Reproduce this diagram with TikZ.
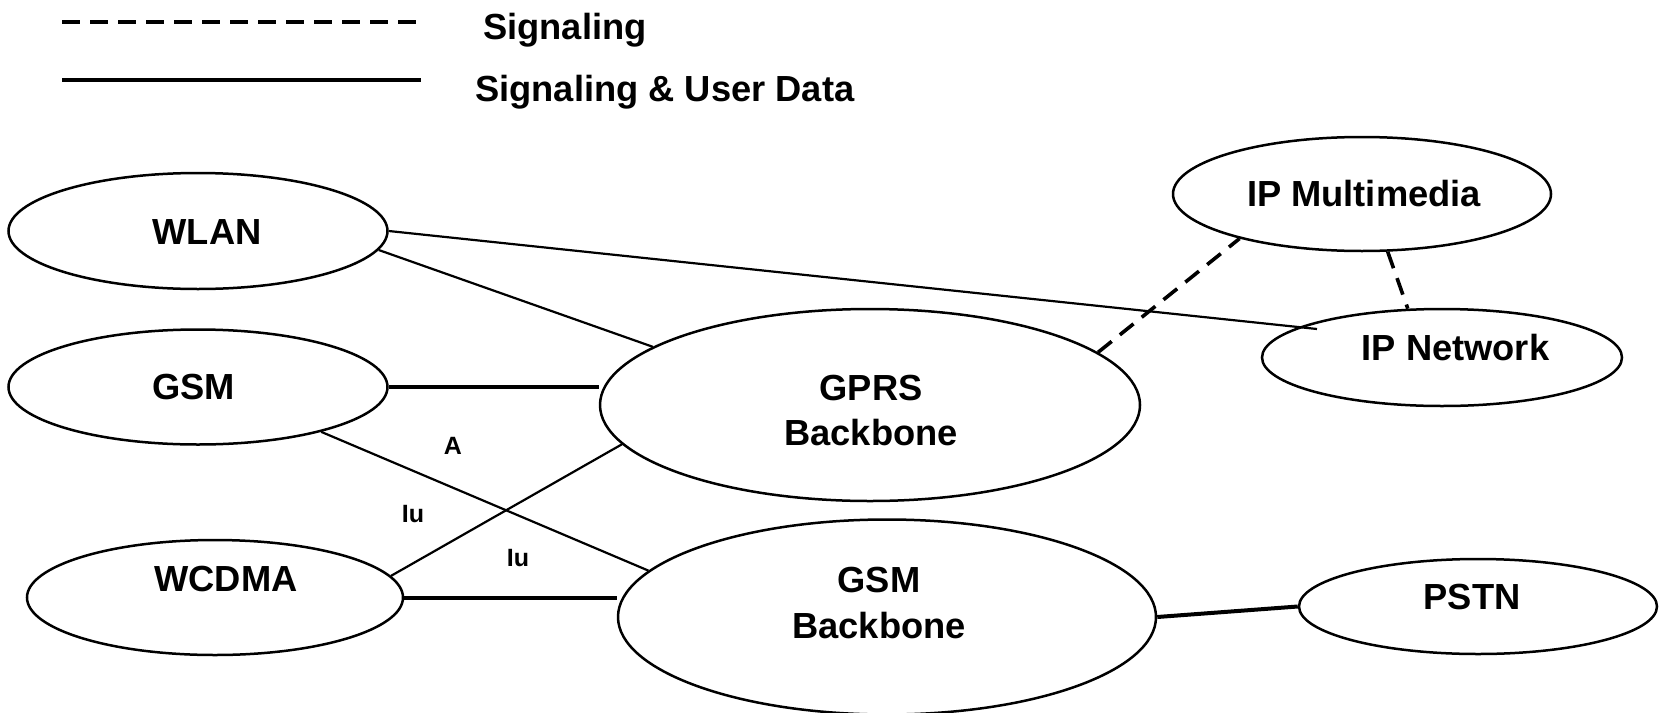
\documentclass[tikz,border=0pt]{standalone}
\usepackage{fontspec}
\setmainfont{Liberation Sans}
\usetikzlibrary{shapes.geometric}
\begin{document}
\begin{tikzpicture}[x=1pt,y=-1pt,
  net/.style={ellipse, draw, line width=2.5pt, inner sep=0pt},
  txt/.style={font=\fontsize{36.3}{45.5}\selectfont\bfseries, align=center, inner sep=0pt},
  tag/.style={font=\fontsize{25}{30}\selectfont\bfseries, inner sep=0pt},
  link/.style={line width=2.2pt},
  trunk/.style={line width=4pt},
  sig/.style={line width=3.6pt, dash pattern=on 17.5pt off 10.5pt},
]
\useasboundingbox (0,0) rectangle (1659,712);

% legend
\coordinate (ds) at (62,22);
\coordinate (de) at (416,22);
\coordinate (ss) at (62,80);
\coordinate (se) at (421,80);
\draw[sig] (ds) -- (de);
\draw[trunk] (ss) -- (se);
\node[txt, anchor=base west] (leg1) at (483,39) {Signaling};
\node[txt, anchor=base west] (leg2) at (475,101) {Signaling \& User Data};

% networks
\node[net, minimum width=379pt, minimum height=116pt] (wlan)  at (198,231)   {};
\node[net, minimum width=379pt, minimum height=115pt] (gsm)   at (198,387)   {};
\node[net, minimum width=376pt, minimum height=115pt] (wcdma) at (215,597.5) {};
\node[net, minimum width=540pt, minimum height=192pt] (gprs)  at (870,405)   {};
\node[net, minimum width=538pt, minimum height=195pt] (gsmbb) at (887,617)   {};
\node[net, minimum width=378pt, minimum height=114pt] (ipmm)  at (1362,194)  {};
\node[net, minimum width=360pt, minimum height=97pt]  (ipnet) at (1442,357.5){};
\node[net, minimum width=358pt, minimum height=95pt]  (pstn)  at (1478,606.5){};

% network names
\node[txt] (wlan-t)  at (207,232)     {WLAN};
\node[txt] (gsm-t)   at (193.5,387)   {GSM};
\node[txt] (wcdma-t) at (226,579)     {WCDMA};
\node[txt] (gprs-t)  at (871,410.5)   {GPRS\\Backbone};
\node[txt] (gsmbb-t) at (879,603)     {GSM\\Backbone};
\node[txt] (ipmm-t)  at (1364,194)    {IP Multimedia};
\node[txt] (ipnet-t) at (1455.5,348)  {IP Network};
\node[txt] (pstn-t)  at (1472,596.5)  {PSTN};

% connections carrying signaling and user data
\draw[link] (wlan.east) -- ([shift={(-125,-28.5)}]ipnet.center);
\draw[link] (wlan.-6) -- (gprs.165);
\draw[trunk] (gsm.east) -- (gsm.east -| gprs.west);
\draw[link] (gsm.-20.7) -- (gsmbb.169.7);
\draw[link] (wcdma.7) -- (gprs.-171);
\draw[trunk] (wcdma.east) -- (wcdma.east -| gsmbb.west);
\draw[trunk] (gsmbb.east) -- (pstn.west);

% signaling only
\draw[sig] (gprs.13.5) -- (ipmm.-160);
\draw[sig] (ipmm.-66) -- (ipnet.125);

% interface names
\node[tag] (lbl-a)   at (453,446) {A};
\node[tag] (lbl-iu1) at (413,514) {Iu};
\node[tag] (lbl-iu2) at (518,558) {Iu};
\end{tikzpicture}
\end{document}
